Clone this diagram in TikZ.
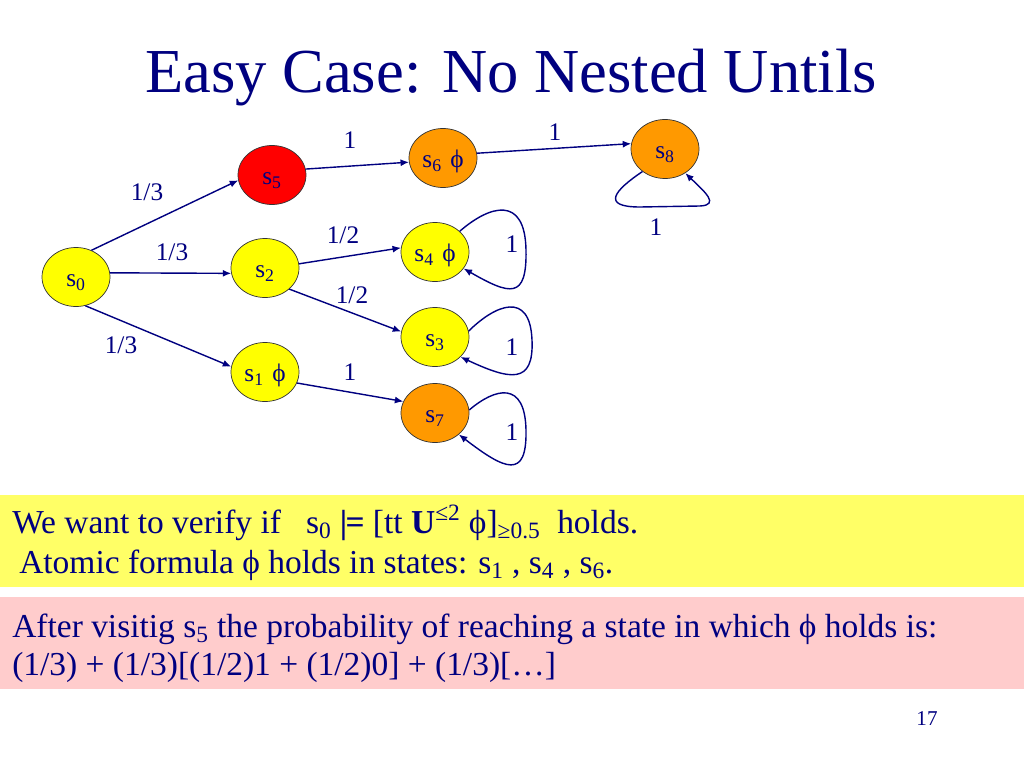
\documentclass[tikz,border=0pt]{standalone}
\usepackage{fontspec}
\setmainfont{Liberation Serif}
\usetikzlibrary{arrows.meta,shapes.geometric}

\definecolor{navy}{RGB}{0,0,128}
\definecolor{stateyellow}{RGB}{255,255,0}
\definecolor{statered}{RGB}{255,0,0}
\definecolor{stateorange}{RGB}{255,153,0}
\definecolor{boxyellow}{RGB}{255,255,102}
\definecolor{boxpink}{RGB}{255,204,204}

\newcommand{\st}[1]{s\textsubscript{#1}}

\tikzset{
  state/.style={ellipse, draw=black!80, line width=0.5pt, minimum width=1.7cm, minimum height=1.475cm, inner sep=0pt, text height=14pt, text depth=0pt, font=\fontsize{18}{20}\selectfont, text=navy},
  prob/.style={anchor=base, inner sep=0pt, font=\fontsize{18}{20}\selectfont, text=navy},
  trans/.style={draw=navy, line width=1pt, -{Latex[length=6pt,width=5pt]}},
  boxtext/.style={anchor=base west, inner sep=0pt, font=\fontsize{23.8}{28}\selectfont, text=navy}
}

\begin{document}
\begin{tikzpicture}[x=0.025cm,y=-0.025cm]
\useasboundingbox (0,0) rectangle (1024,768);
\fill[white] (0,0) rectangle (1024,768);

\node[anchor=base, inner sep=0pt, font=\fontsize{44.5}{50}\selectfont, text=navy] (title) at (511,93) {Easy Case: No Nested Untils};

\node[state, fill=stateyellow] (s0) at (76,277) {\st{0}};
\node[state, fill=statered] (s5) at (272,175) {\st{5}};
\node[state, fill=stateyellow] (s2) at (265,268) {\st{2}};
\node[state, fill=stateyellow] (s1) at (265,372) {\st{1}\hspace{6pt}ϕ};
\node[state, fill=stateorange] (s6) at (443,158) {\st{6}\hspace{6pt}ϕ};
\node[state, fill=stateyellow] (s4) at (435,252) {\st{4}\hspace{6pt}ϕ};
\node[state, fill=stateyellow] (s3) at (435,337) {\st{3}};
\node[state, fill=stateorange] (s7) at (435,413) {\st{7}};
\node[state, fill=stateorange] (s8) at (665,149) {\st{8}};

\draw[trans] (s0.60) -- (s5.189);
\draw[trans] (s0.7) -- (s2.189);
\draw[trans] (s0.-72) -- (s1.171);
\draw[trans] (s5.10) -- (s6.187);
\draw[trans] (s2.7) -- (s4.173);
\draw[trans] (s2.-41) -- (s3.171);
\draw[trans] (s1.-19) -- (s7.160);
\draw[trans] (s6.8) -- (s8.171);

\draw[trans] (s4.40) .. controls (490,205) and (525,195) .. (526,250) .. controls (527,300) and (510,295) .. (s4.-30);
\draw[trans] (s3.10) .. controls (495,305) and (530,290) .. (532,340) .. controls (534,385) and (510,380) .. (s3.-38);
\draw[trans] (s7.5) .. controls (495,388) and (525,380) .. (526,430) .. controls (527,480) and (505,470) .. (s7.-42);
\draw[trans] (s8.-135) .. controls (615,190) and (600,207) .. (640,207) -- (700,206) .. controls (720,205) and (705,192) .. (s8.-50);

\node[prob] (p05) at (147,200) {1/3};
\node[prob] (p02) at (172,260) {1/3};
\node[prob] (p01) at (121,353) {1/3};
\node[prob] (p56) at (350,149) {1};
\node[prob] (p24) at (343,243) {1/2};
\node[prob] (p23) at (352,303) {1/2};
\node[prob] (p17) at (350,380) {1};
\node[prob] (p68) at (555,141) {1};
\node[prob] (p88) at (656,235) {1};
\node[prob] (p44) at (512,252) {1};
\node[prob] (p33) at (512,355) {1};
\node[prob] (p77) at (512,440) {1};

\fill[boxyellow] (0,495) rectangle (1024,587);
\fill[boxpink] (0,597) rectangle (1024,689);
\node[boxtext] (verify) at (12,533) {We want to verify if\ \ \ \st{0} {\bfseries|\kern-0.05em=} [tt \textbf{U}\textsuperscript{≤2} ϕ]\textsubscript{≥0.5}\ \ holds.};
\node[boxtext] (atomic) at (19,573) {Atomic formula ϕ holds in states: \st{1} , \st{4} , \st{6}.};
\node[boxtext] (visit) at (12,637) {After visitig \st{5} the probability of reaching a state in which ϕ holds is:};
\node[boxtext] (sum) at (12,675) {(1/3) + (1/3)[(1/2)1 + (1/2)0] + (1/3)[…]};

\node[anchor=base, inner sep=0pt, font=\fontsize{15}{18}\selectfont, text=navy] (page) at (927,725) {17};
\end{tikzpicture}
\end{document}
